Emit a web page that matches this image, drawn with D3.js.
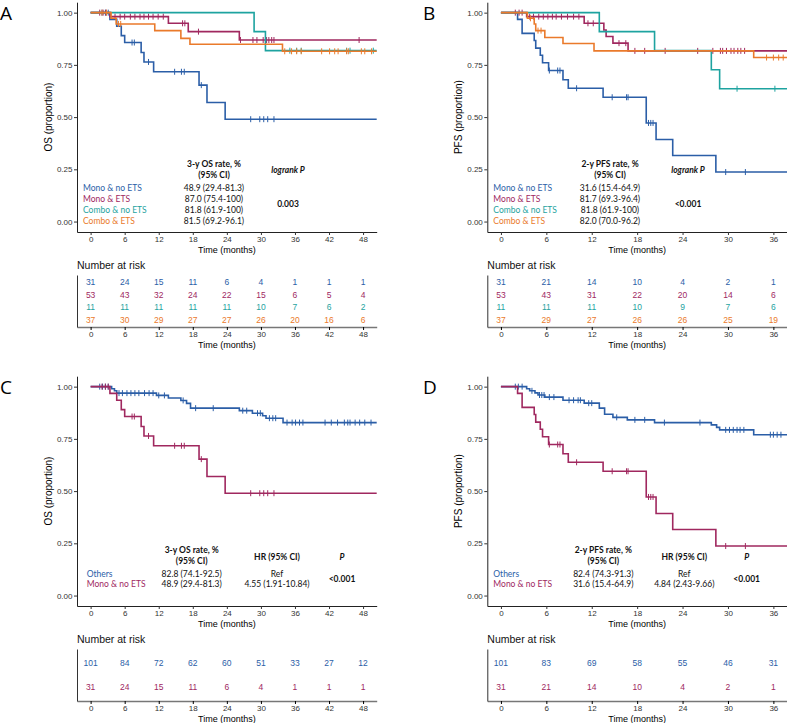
<!DOCTYPE html>
<html>
<head>
<meta charset="utf-8">
<script src="https://cdn.jsdelivr.net/npm/d3@7"></script>
<style>
  body { margin: 0; background: #fff; }
  .tick text { fill: #333; }
</style>
</head>
<body>
<svg id="fig" width="787" height="723"></svg>
<script>
// ---- groups and colours ----
const groups4 = ["Mono & no ETS", "Mono & ETS", "Combo & no ETS", "Combo & ETS"];
const groups2 = ["Others", "Mono & no ETS"];
const colors4 = ["#2b5ea7", "#a0285f", "#1ea3a0", "#ea7a2b"];
const colors2 = ["#2b5ea7", "#a0285f"];

// ---- Kaplan-Meier steps [month, proportion] and censor months ----
// A: OS
const osMonoNoEts = [[0, 1], [3.4, 0.968], [4.6, 0.935], [5.4, 0.89], [6.0, 0.857], [8.9, 0.809], [9.4, 0.764], [11.1, 0.717], [19.1, 0.653], [20.5, 0.57], [23.7, 0.49]];
const osMonoNoEtsCens = [2.0, 2.6, 3.1, 7.3, 7.7, 10.2, 14.8, 16.0, 16.5, 19.5, 28.2, 29.8, 30.5, 31.2, 32.3];
const osMonoEts = [[0, 1], [3.4, 0.981], [13.7, 0.949], [17.2, 0.909], [26.2, 0.869]];
const osMonoEtsCens = [1.6, 2.2, 2.7, 4.3, 5.2, 6.0, 7.0, 7.8, 8.7, 9.4, 10.2, 11.0, 11.9, 12.8, 16.2, 16.6, 19.0, 26.4, 28.6, 29.3, 30.4, 31.0, 31.4, 31.9, 32.3, 47.3];
const osComboNoEts = [[0, 1], [28.8, 0.909], [30.8, 0.818]];
const osComboNoEtsCens = [35.1, 36.3, 37.1, 45.1, 45.7, 49.8];
const osComboEts = [[0, 1], [3.6, 0.973], [4.5, 0.946], [11.3, 0.914], [15.9, 0.877], [17.5, 0.849], [33.8, 0.815]];
const osComboEtsCens = [2.0, 2.8, 4.9, 5.3, 34.2, 35.4, 36.3, 37.1, 40.7, 42.1, 43.0, 43.6, 45.1, 45.4, 47.7, 48.3, 49.5];

// B: PFS
const pfsMonoNoEts = [[0, 1], [2.2, 0.968], [2.8, 0.901], [4.4, 0.867], [4.6, 0.83], [5.2, 0.796], [5.5, 0.76], [6.3, 0.723], [8.2, 0.679], [8.9, 0.638], [13.5, 0.595], [19.2, 0.472], [20.5, 0.393], [22.7, 0.316], [28.4, 0.237]];
const pfsMonoNoEtsCens = [6.4, 7.5, 7.8, 10.0, 14.7, 16.6, 16.8, 19.5, 19.8, 20.1, 29.7, 32.3];
const pfsMonoEts = [[0, 1], [3.4, 0.981], [11.0, 0.949], [13.6, 0.917], [13.9, 0.886], [14.8, 0.854], [16.8, 0.817]];
const pfsMonoEtsCens = [1.9, 2.4, 2.8, 3.8, 4.3, 5.0, 5.6, 6.2, 6.8, 7.3, 8.0, 8.8, 9.6, 10.3, 11.5, 12.2, 15.6, 16.5, 17.7, 19.0, 21.7, 26.0, 28.0, 29.0, 29.3, 29.8, 30.4, 30.8, 31.3, 31.7, 32.2];
const pfsComboNoEts = [[0, 1], [13.0, 0.909], [20.3, 0.818], [27.8, 0.727], [28.9, 0.636]];
const pfsComboNoEtsCens = [31.2, 36.2];
const pfsComboEts = [[0, 1], [3.5, 0.973], [4.4, 0.946], [4.6, 0.914], [5.8, 0.881], [8.2, 0.852], [12.3, 0.817], [33.4, 0.785]];
const pfsComboEtsCens = [3.9, 4.9, 5.3, 35.1, 36.0, 36.7, 37.3];

// C: OS others vs mono & no ETS
const osOthers = [[0, 1], [3.7, 0.99], [4.2, 0.98], [4.6, 0.969], [11.6, 0.958], [13.7, 0.946], [15.9, 0.934], [16.9, 0.92], [17.6, 0.897], [26.2, 0.885], [28.5, 0.873], [30.3, 0.861], [30.9, 0.849], [33.9, 0.828]];
const osOthersCens = [1.6, 2.1, 2.6, 3.1, 5.0, 5.6, 6.4, 7.1, 7.8, 8.5, 9.5, 10.3, 11.0, 12.0, 13.0, 16.3, 18.5, 21.6, 26.8, 27.5, 29.4, 29.9, 31.5, 32.1, 32.6, 34.6, 35.5, 36.1, 36.8, 37.4, 41.3, 42.4, 43.5, 44.7, 45.3, 45.7, 46.6, 47.4, 48.3, 49.4];

// D: PFS others vs mono & no ETS
const pfsOthers = [[0, 1], [3.4, 0.99], [3.8, 0.98], [4.5, 0.97], [4.9, 0.96], [5.8, 0.95], [8.2, 0.935], [11.0, 0.921], [13.0, 0.897], [13.7, 0.868], [14.8, 0.853], [16.7, 0.841], [20.3, 0.828], [27.8, 0.817], [28.5, 0.805], [28.9, 0.793], [33.4, 0.77]];
const pfsOthersCens = [1.9, 2.3, 2.8, 4.1, 5.1, 5.4, 5.7, 6.4, 7.0, 9.0, 9.6, 10.2, 10.5, 11.6, 12.0, 15.3, 17.7, 19.0, 21.6, 26.3, 29.7, 30.2, 30.7, 31.2, 31.6, 32.1, 35.6, 36.0, 36.5, 37.0];

// ---- number at risk ----
const ticks48 = [0, 6, 12, 18, 24, 30, 36, 42, 48];
const ticks36 = [0, 6, 12, 18, 24, 30, 36];
const riskA = [[31, 24, 15, 11, 6, 4, 1, 1, 1], [53, 43, 32, 24, 22, 15, 6, 5, 4], [11, 11, 11, 11, 11, 10, 7, 6, 2], [37, 30, 29, 27, 27, 26, 20, 16, 6]];
const riskB = [[31, 21, 14, 10, 4, 2, 1], [53, 43, 31, 22, 20, 14, 6], [11, 11, 11, 10, 9, 7, 6], [37, 29, 27, 26, 26, 25, 19]];
const riskC = [[101, 84, 72, 62, 60, 51, 33, 27, 12], [31, 24, 15, 11, 6, 4, 1, 1, 1]];
const riskD = [[101, 83, 69, 58, 55, 46, 31], [31, 21, 14, 10, 4, 2, 1]];

// ---- annotation texts ----
const ratesA = ["48.9 (29.4-81.3)", "87.0 (75.4-100)", "81.8 (61.9-100)", "81.5 (69.2-96.1)"];
const ratesB = ["31.6 (15.4-64.9)", "81.7 (69.3-96.4)", "81.8 (61.9-100)", "82.0 (70.0-96.2)"];
const ratesC = ["82.8 (74.1-92.5)", "48.9 (29.4-81.3)"];
const ratesD = ["82.4 (74.3-91.3)", "31.6 (15.4-64.9)"];
const hrC = ["Ref", "4.55 (1.91-10.84)"];
const hrD = ["Ref", "4.84 (2.43-9.66)"];

const svg = d3.select("#fig");
const axisFont = "'Liberation Sans', Arial, sans-serif";
const noteFont = "Lato, 'Open Sans', sans-serif";

// value of a step curve at month t
function survAt(steps, t) {
  let s = steps[0][1];
  for (const p of steps) if (p[0] <= t) s = p[1];
  return s;
}

function drawPanel(cfg) {
  const x = d3.scaleLinear().domain([-0.05 * cfg.maxT, 1.05 * cfg.maxT]).range([cfg.left, cfg.left + 299.7]);
  const y = d3.scaleLinear().domain([-0.05, 1.05]).range([cfg.top + 229.8, cfg.top]);
  const xEnd = 1.05 * cfg.maxT;

  // panel letter
  svg.append("text").attr("x", cfg.letterX).attr("y", cfg.top + 18)
    .attr("font-family", "'Open Sans', sans-serif").attr("font-size", 19).text(cfg.letter);

  // axes
  const gx = svg.append("g").attr("transform", `translate(0,${cfg.top + 229.8})`)
    .call(d3.axisBottom(x).tickValues(cfg.ticks).tickSize(3).tickSizeOuter(0).tickPadding(1.5));
  const gy = svg.append("g").attr("transform", `translate(${cfg.left},0)`)
    .call(d3.axisLeft(y).tickValues([0, 0.25, 0.5, 0.75, 1]).tickFormat(d3.format(".2f")).tickSize(3).tickSizeOuter(0).tickPadding(1.5));
  [gx, gy].forEach((g) => {
    g.selectAll("text").attr("font-family", axisFont).attr("font-size", 8);
    g.select(".domain").attr("stroke", "#222");
    g.selectAll(".tick line").attr("stroke", "#333");
  });

  svg.append("text").attr("x", x(cfg.maxT / 2)).attr("y", cfg.top + 250.5)
    .attr("text-anchor", "middle").attr("font-family", axisFont).attr("font-size", 9).text("Time (months)");
  svg.append("text").attr("transform", `translate(${cfg.left - 25},${y(0.5)}) rotate(-90)`)
    .attr("text-anchor", "middle").attr("font-family", axisFont).attr("font-size", 10).text(cfg.yTitle);

  // curves
  const line = d3.line().x((d) => x(d[0])).y((d) => y(d[1])).curve(d3.curveStepAfter);
  cfg.curves.forEach((c, i) => {
    const pts = c.steps.concat([[xEnd, c.steps[c.steps.length - 1][1]]]);
    svg.append("path").datum(pts).attr("d", line).attr("fill", "none")
      .attr("stroke", cfg.colors[i]).attr("stroke-width", 1.6);
    svg.append("g").selectAll("line").data(c.cens).enter().append("line")
      .attr("x1", (t) => x(t)).attr("x2", (t) => x(t))
      .attr("y1", (t) => y(survAt(c.steps, t)) - 3).attr("y2", (t) => y(survAt(c.steps, t)) + 3)
      .attr("stroke", cfg.colors[i]).attr("stroke-width", 1);
  });

  // in-plot annotation table
  const n = cfg.groups.length;
  const rowY = (i) => cfg.top + (n === 4 ? 188.3 : 200.3) + i * (n === 4 ? 11.3 : 10.7);
  const note = (tx, ty, txt, opts = {}) =>
    svg.append("text").attr("x", tx).attr("y", ty).attr("text-anchor", opts.anchor || "middle")
      .attr("font-family", noteFont).attr("font-size", 8.5)
      .attr("font-weight", opts.bold ? "bold" : "normal")
      .attr("font-style", opts.italic ? "italic" : "normal")
      .attr("fill", opts.color || "#111").text(txt);
  cfg.groups.forEach((gname, i) => {
    note(cfg.labelX, rowY(i), gname, { anchor: "start", color: cfg.colors[i] });
    note(cfg.rateX, rowY(i), cfg.rates[i]);
    if (cfg.hr) note(cfg.hrX, rowY(i), cfg.hr[i]);
  });
  const hy = n === 4 ? cfg.top + 164.8 : cfg.top + 176.5;
  note(cfg.rateX, hy, cfg.rateTitle, { bold: true });
  note(cfg.rateX, hy + 11, "(95% CI)", { bold: true });
  if (cfg.hr) note(cfg.hrX, hy + 7.3, "HR (95% CI)", { bold: true });
  note(cfg.pX, n === 4 ? hy + 5.7 : hy + 7.3, cfg.pTitle, { bold: true, italic: true });
  note(cfg.pX, n === 4 ? cfg.top + 204.8 : cfg.top + 205.3, cfg.pValue, { bold: true });

  // number at risk table
  const rt = cfg.riskTop;
  svg.append("text").attr("x", cfg.left).attr("y", rt - 6)
    .attr("font-family", axisFont).attr("font-size", 10.5).attr("fill", "#111").text("Number at risk");
  const ry = d3.scalePoint().domain(cfg.groups).range([rt, rt + 52]).padding(0.6);
  const rx = svg.append("g").attr("transform", `translate(0,${rt + 52})`)
    .call(d3.axisBottom(x).tickValues(cfg.ticks).tickSize(3).tickSizeOuter(0).tickPadding(1));
  const ryAxis = svg.append("g").attr("transform", `translate(${cfg.left},0)`)
    .call(d3.axisLeft(ry).tickValues([]).tickSizeOuter(0));
  ryAxis.select(".domain").attr("stroke", "#333");
  rx.select(".domain").attr("stroke", "#777").attr("stroke-width", 1.4);
  rx.selectAll("text").attr("font-family", axisFont).attr("font-size", 8);
  svg.append("text").attr("x", x(cfg.maxT / 2)).attr("y", rt + 73)
    .attr("text-anchor", "middle").attr("font-family", axisFont).attr("font-size", 9).text("Time (months)");

  cfg.risk.forEach((row, i) => {
    svg.append("g").selectAll("text").data(row).enter().append("text")
      .attr("x", (d, j) => x(cfg.ticks[j])).attr("y", ry(cfg.groups[i]) + 3)
      .attr("text-anchor", "middle").attr("font-family", axisFont).attr("font-size", 8.5)
      .attr("fill", cfg.colors[i]).text((d) => d);
  });
}

drawPanel({
  letter: "A", letterX: 0, left: 77, top: 2.2, maxT: 48, ticks: ticks48, yTitle: "OS (proportion)",
  groups: groups4, colors: colors4,
  curves: [
    { steps: osMonoNoEts, cens: osMonoNoEtsCens },
    { steps: osMonoEts, cens: osMonoEtsCens },
    { steps: osComboNoEts, cens: osComboNoEtsCens },
    { steps: osComboEts, cens: osComboEtsCens },
  ],
  labelX: 83, rateX: 214, pX: 288, rates: ratesA,
  rateTitle: "3-y OS rate, %", pTitle: "logrank P", pValue: "0.003",
  riskTop: 275, risk: riskA,
});

drawPanel({
  letter: "B", letterX: 423, left: 487.3, top: 2.2, maxT: 36, ticks: ticks36, yTitle: "PFS (proportion)",
  groups: groups4, colors: colors4,
  curves: [
    { steps: pfsMonoNoEts, cens: pfsMonoNoEtsCens },
    { steps: pfsMonoEts, cens: pfsMonoEtsCens },
    { steps: pfsComboNoEts, cens: pfsComboNoEtsCens },
    { steps: pfsComboEts, cens: pfsComboEtsCens },
  ],
  labelX: 493.3, rateX: 610, pX: 688, rates: ratesB,
  rateTitle: "2-y PFS rate, %", pTitle: "logrank P", pValue: "<0.001",
  riskTop: 275, risk: riskB,
});

drawPanel({
  letter: "C", letterX: 0, left: 77, top: 376.2, maxT: 48, ticks: ticks48, yTitle: "OS (proportion)",
  groups: groups2, colors: colors2,
  curves: [
    { steps: osOthers, cens: osOthersCens },
    { steps: osMonoNoEts, cens: osMonoNoEtsCens },
  ],
  labelX: 86.7, rateX: 191.7, hrX: 277, pX: 342, rates: ratesC, hr: hrC,
  rateTitle: "3-y OS rate, %", pTitle: "P", pValue: "<0.001",
  riskTop: 649, risk: riskC,
});

drawPanel({
  letter: "D", letterX: 423, left: 487.3, top: 376.2, maxT: 36, ticks: ticks36, yTitle: "PFS (proportion)",
  groups: groups2, colors: colors2,
  curves: [
    { steps: pfsOthers, cens: pfsOthersCens },
    { steps: pfsMonoNoEts, cens: pfsMonoNoEtsCens },
  ],
  labelX: 493.3, rateX: 603.3, hrX: 684.3, pX: 746.7, rates: ratesD, hr: hrD,
  rateTitle: "2-y PFS rate, %", pTitle: "P", pValue: "<0.001",
  riskTop: 649, risk: riskD,
});
</script>
</body>
</html>
